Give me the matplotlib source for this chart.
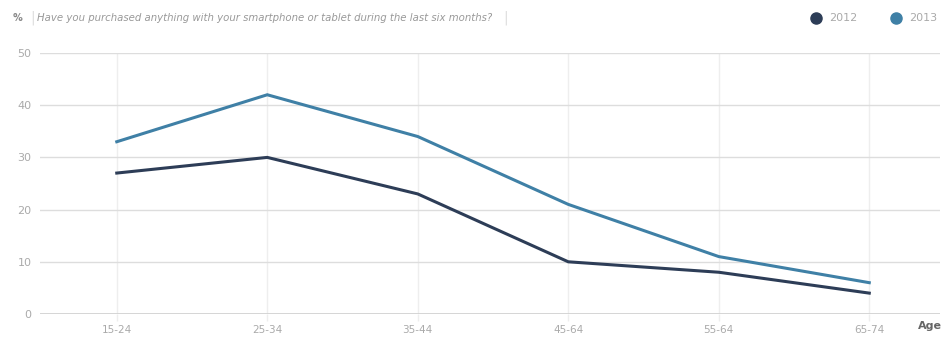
import matplotlib.pyplot as plt
from matplotlib.lines import Line2D

# share of people who bought something with a smartphone/tablet, by age group
age_groups = ['15-24', '25-34', '35-44', '45-64', '55-64', '65-74']
pct_2012 = [27, 30, 23, 10, 8, 4]
pct_2013 = [33, 42, 34, 21, 11, 6]

col_2012 = '#2d3d57'
col_2013 = '#3f80a6'
grey = '#aaaaaa'

fig = plt.figure(figsize=(9.45, 3.42), dpi=100)
ax = fig.add_axes([40 / 945, 28 / 342, 900 / 945, 261 / 342])

x = range(len(age_groups))
ax.plot(x, pct_2012, color=col_2012, lw=2.2, solid_joinstyle='miter', zorder=3)
ax.plot(x, pct_2013, color=col_2013, lw=2.2, solid_joinstyle='miter', zorder=3)

ax.set_xlim(-0.51, 5.47)
ax.set_ylim(0, 50)
ax.set_yticks(range(0, 51, 10))
ax.set_xticks(list(x))
ax.set_xticklabels(age_groups)

ax.grid(axis='y', color='#dddddd', lw=1)
ax.grid(axis='x', color='#eeeeee', lw=1)
for s in ax.spines.values():
    s.set_visible(False)
ax.axhline(0, color='#d0d0d0', lw=1.2, zorder=2)

ax.tick_params(axis='y', length=0, pad=6, labelsize=8, labelcolor=grey)
ax.tick_params(axis='x', length=5, width=1, color='#eeeeee', pad=3,
               labelsize=7.5, labelcolor=grey)

# header: unit, question and legend
hy = 1 - 18 / 342
fig.text(13 / 945, hy, '%', fontsize=7, fontweight='bold',
         color='#888888', va='center')
fig.text(30 / 945, hy, '|', fontsize=10, color='#dddddd', va='center')
fig.text(37 / 945, hy,
         'Have you purchased anything with your smartphone or tablet during the last six months?',
         fontsize=7.3, style='italic', color='#999999', va='center')
fig.text(503 / 945, hy, '|', fontsize=10, color='#dddddd', va='center')

for cx, col, lab in [(816, col_2012, '2012'), (896, col_2013, '2013')]:
    fig.add_artist(Line2D([cx / 945], [hy], marker='o', markersize=8,
                          color=col, transform=fig.transFigure))
    fig.text((cx + 13) / 945, hy, lab, fontsize=8, color=grey, va='center')

fig.text(930 / 945, 1 - 326 / 342, 'Age', fontsize=8, fontweight='bold',
         color='#666666', va='center', ha='center')

fig.savefig('out.png', dpi=100)
